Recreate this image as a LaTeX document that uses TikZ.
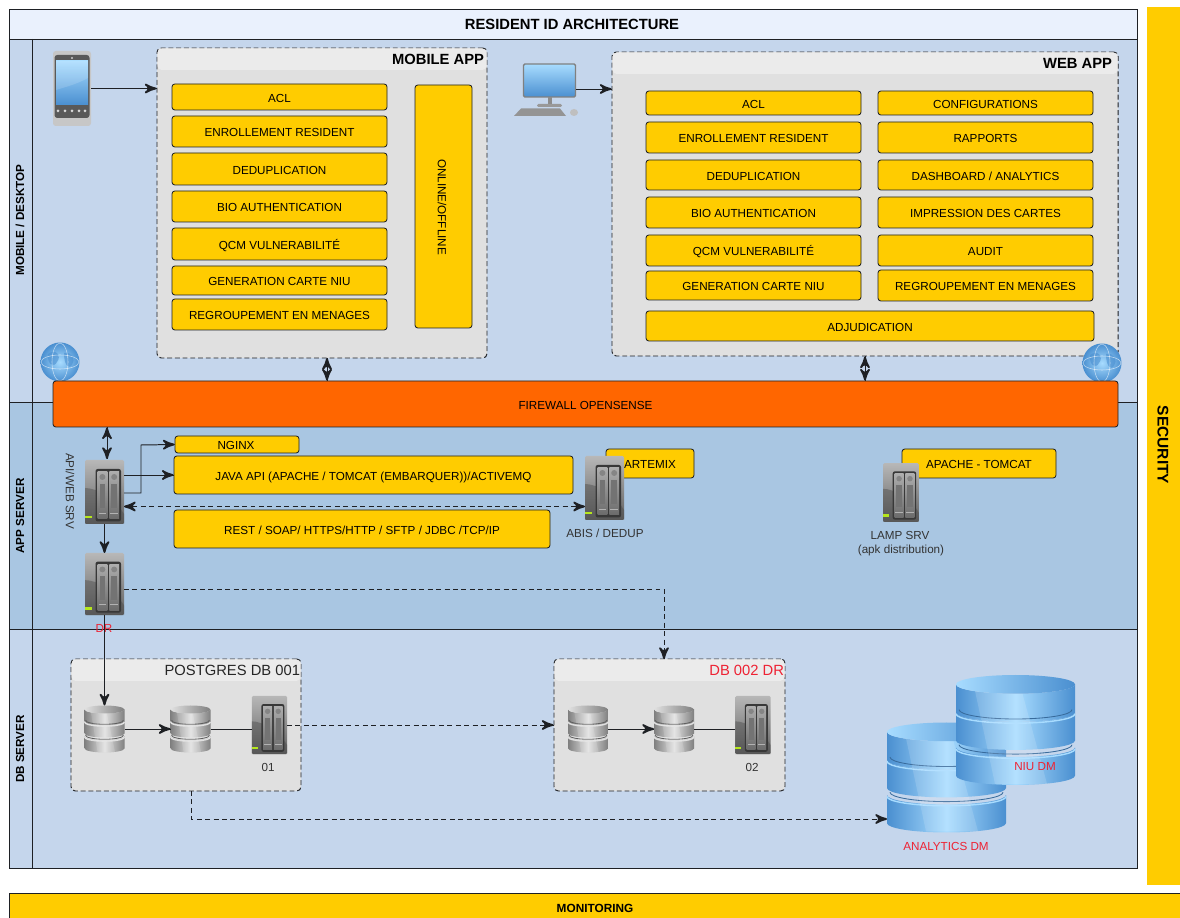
\documentclass[tikz,border=0pt]{standalone}
\usepackage{fontspec}
\setmainfont{Liberation Sans}
\usetikzlibrary{arrows}
\usetikzlibrary{decorations.markings}
\usetikzlibrary{shadings}
\definecolor{lanelight}{HTML}{C5D6EC}
\definecolor{lanemid}{HTML}{A9C6E2}
\definecolor{titleback}{HTML}{EAF1FD}
\definecolor{framegray}{HTML}{E0E0E0}
\definecolor{headgray}{HTML}{EBEBEB}
\definecolor{boxyellow}{HTML}{FFCC00}
\definecolor{wallorange}{HTML}{FF6600}
\definecolor{inkline}{HTML}{1E2024}
\definecolor{alertred}{HTML}{EE2233}
\definecolor{skylight}{HTML}{A8DCFF}
\definecolor{skydark}{HTML}{4A8FD0}
\definecolor{ledgreen}{HTML}{B5E61D}
\tikzset{flow/.style = {decoration={markings,
                                    mark=at position 1 with {\arrow[scale=1.8]{stealth'}}},
                        postaction={decorate}, draw=inkline, line width=0.7pt}}
\tikzset{flowboth/.style = {decoration={markings,
                                        mark=at position 0 with {\arrowreversed[scale=1.8]{stealth'}},
                                        mark=at position 1 with {\arrow[scale=1.8]{stealth'}}},
                            postaction={decorate}, draw=inkline, line width=0.7pt}}
\tikzset{flowdash/.style = {flow, dash pattern=on 3.5pt off 2.5pt}}
\tikzset{flowbothdash/.style = {flowboth, dash pattern=on 3.5pt off 2.5pt}}
\tikzset{lane/.style = {draw=inkline, line width=0.6pt}}
\tikzset{lanelabel/.style = {rotate=90, font=\fontsize{8.3}{9}\selectfont\bfseries}}
\tikzset{ybox/.style = {draw=inkline, fill=boxyellow, rounded corners=2pt, line width=0.6pt,
                        inner sep=0pt, text height=7.5pt, text depth=0pt,
                        font=\fontsize{8.3}{9}\selectfont}}
\tikzset{appframe/.style = {draw=inkline, dash pattern=on 3.5pt off 2pt, rounded corners=3pt,
                            line width=0.7pt}}
\tikzset{smalltext/.style = {font=\fontsize{8.3}{9}\selectfont, text=black!80}}
\tikzset{iconanchor/.style = {inner sep=0pt, outer sep=0pt}}

% server icon: name, centre, x scale, y scale
\newcommand{\srvicon}[4]{%
  \node [iconanchor, rounded corners=1pt, top color=black!28, bottom color=black!62,
         minimum width={39*#3*0.025cm}, minimum height={64*#4*0.025cm}] (#1) at (#2) {};
  \begin{scope}[shift={(#2)}, xscale={#3}, yscale={#4}]
    \fill [black!70, opacity=0.45] (-19.5, -4) .. controls (-8, -4) and (10, 6) .. (19.5, 22)
      -- (19.5, 32) -- (-19.5, 32) -- cycle;
    \fill [black!78, rounded corners=1.5pt] (-9, -23) rectangle (16.5, 29.5);
    \foreach \bx in {-7, 4.8} {
      \shade [top color=black!32, bottom color=black!58] (\bx, -20.5) rectangle (\bx + 9.8, 27);
      \fill [black!48] (\bx + 4.9, -15) circle (3);
      \fill [black!55] (\bx + 2, -8) rectangle (\bx + 7.8, 16);
      \draw [black!30, line width=0.4pt] (\bx + 1, 21) -- (\bx + 8.8, 21);
    }
    \fill [ledgreen] (-19.5, 23.7) rectangle (-12.8, 26.3);
  \end{scope}}

% database icon: name, centre, width, height, dark and light colour
\newcommand{\dbicon}[6]{%
  \colorlet{dbdark}{#5}\colorlet{dblight}{#6}
  \node [iconanchor, minimum width={#3*0.025cm}, minimum height={#4*0.025cm}] (#1) at (#2) {};
  \begin{scope}[shift={(#2)}, xscale={#3/40}, yscale={#4/47}]
    \foreach \dy in {7.5, -7.5, -19.5} {
      \shade [left color=dbdark, right color=dbdark, middle color=dblight]
        (-20, \dy) -- (-20, \dy + 12) arc [start angle=180, end angle=0, x radius=20, y radius=4]
        -- (20, \dy) arc [start angle=0, end angle=180, x radius=20, y radius=4] -- cycle;
    }
    \foreach \dy in {-7.5, 7.5} {
      \draw [dbdark!75!black, line width=0.6pt] (-19, \dy - 1.2) arc [start angle=180, end angle=0, x radius=19, y radius=4];
      \draw [dblight, line width=1pt] (-20, \dy + 0.6) arc [start angle=180, end angle=0, x radius=20, y radius=4];
    }
    \fill [white, opacity=0.14] (-14, -19) -- (1.6, -19) -- (10.6, 23) -- (-6.9, 23) -- cycle;
    \shade [left color=dblight, right color=dbdark] (0, -19.5) ellipse [x radius=20, y radius=4];
  \end{scope}}

% globe icon: name, centre
\newcommand{\globeicon}[2]{%
  \node [iconanchor, circle, minimum size={39*0.025cm}, inner color=skylight,
         outer color=skydark] (#1) at (#2) {};
  \begin{scope}[shift={(#2)}]
    \fill [skydark, opacity=0.6] (-12, -8) .. controls (-4, -14) and (2, -6) .. (-3, 0)
      .. controls (-6, 6) and (-13, 3) .. cycle;
    \fill [skydark, opacity=0.6] (4, -9) .. controls (12, -11) and (16, -2) .. (12, 3)
      .. controls (8, 8) and (4, 2) .. cycle;
    \draw [white, line width=0.4pt, opacity=0.6] (0, 0) ellipse [x radius=8, y radius=19];
    \draw [white, line width=0.4pt, opacity=0.6] (0, 0) ellipse [x radius=19, y radius=7];
  \end{scope}}

\begin{document}
\begin{tikzpicture}[x=0.025cm, y=-0.025cm]
  \useasboundingbox (0, 0) rectangle (1180, 918);

  % lanes
  \fill [white] (0, 0) rectangle (1180, 918);
  \draw [lane, fill=titleback] (9, 9) rectangle (1137, 39);
  \draw [lane, fill=lanelight] (9, 39) rectangle (1137, 402);
  \draw [lane, fill=lanemid] (9, 402) rectangle (1137, 629);
  \draw [lane, fill=lanelight] (9, 629) rectangle (1137, 868);
  \draw [lane] (32, 39) -- (32, 868);
  \node [font=\fontsize{10.5}{12}\selectfont\bfseries] (title) at (572, 24.5) {RESIDENT ID ARCHITECTURE};
  \node [lanelabel] (lanemobile) at (20, 220) {MOBILE / DESKTOP};
  \node [lanelabel] (laneapp) at (20, 516) {APP SERVER};
  \node [lanelabel] (lanedb) at (20, 749) {DB SERVER};

  % security and monitoring
  \fill [boxyellow] (1147, 7) rectangle (1180, 885);
  \node [rotate=-90, font=\fontsize{11}{12}\selectfont\bfseries] (security) at (1163, 445) {SECURITY};
  \draw [lane, fill=boxyellow] (9, 893) rectangle (1182, 920);
  \node [font=\fontsize{8.4}{9}\selectfont\bfseries] (monitoring) at (595, 908) {MONITORING};

  % mobile app
  \node [appframe, fill=framegray, minimum width=330*0.025cm, minimum height=310*0.025cm,
         inner sep=0pt] (mobileapp) at (322, 203) {};
  \fill [headgray, rounded corners=3pt] (157.5, 48.5) rectangle (486.5, 70);
  \node [anchor=east, font=\fontsize{10.5}{12}\selectfont\bfseries] (mobiletitle) at (489, 59) {MOBILE APP};
  \foreach \nm/\yy/\hh/\lbl in {mobacl/97/26/ACL, mobenrol/131.5/31/ENROLLEMENT RESIDENT,
      mobdedup/169/32/DEDUPLICATION, mobbio/206.5/31/BIO AUTHENTICATION,
      mobqcm/244/32/QCM VULNERABILITÉ, mobgen/280.5/29/GENERATION CARTE NIU,
      mobgroup/314.5/31/REGROUPEMENT EN MENAGES}
    \node [ybox, minimum width=215*0.025cm, minimum height={\hh*0.025cm}] (\nm) at (279.5, \yy) {\lbl};
  \node [ybox, minimum width=57*0.025cm, minimum height=243*0.025cm] (mobonline) at (443.5, 206.5) {};
  \node [rotate=-90, font=\fontsize{8.3}{9}\selectfont] (mobonlinetext) at (442, 207) {ONLINE/OFFLINE};

  % web app
  \node [appframe, fill=framegray, minimum width=506*0.025cm, minimum height=304*0.025cm,
         inner sep=0pt] (webapp) at (865, 204) {};
  \fill [headgray, rounded corners=3pt] (612.5, 52.5) rectangle (1117.5, 74);
  \node [anchor=east, font=\fontsize{10.5}{12}\selectfont\bfseries] (webtitle) at (1117, 63) {WEB APP};
  \foreach \nm/\yy/\hh/\lbl in {webacl/103/24/ACL, webenrol/137.5/31/ENROLLEMENT RESIDENT,
      webdedup/175/30/DEDUPLICATION, webbio/212.5/31/BIO AUTHENTICATION,
      webqcm/250.5/31/QCM VULNERABILITÉ, webgen/285.5/29/GENERATION CARTE NIU}
    \node [ybox, minimum width=215*0.025cm, minimum height={\hh*0.025cm}] (\nm) at (753.5, \yy) {\lbl};
  \foreach \nm/\yy/\hh/\lbl in {webconf/103/24/CONFIGURATIONS, webrap/137.5/31/RAPPORTS,
      webdash/175/30/{DASHBOARD / ANALYTICS}, webprint/212.5/31/IMPRESSION DES CARTES,
      webaudit/250.5/31/AUDIT, webgroup/285.5/31/REGROUPEMENT EN MENAGES}
    \node [ybox, minimum width=215*0.025cm, minimum height={\hh*0.025cm}] (\nm) at (985.5, \yy) {\lbl};
  \node [ybox, minimum width=448*0.025cm, minimum height=30*0.025cm] (webadjud) at (870, 326) {ADJUDICATION};

  % phone
  \node [iconanchor, fill=black!22, rounded corners=2pt, minimum width=38*0.025cm,
         minimum height=75*0.025cm] (phone) at (72, 88.5) {};
  \fill [black!65, rounded corners=2pt] (54.5, 55) rectangle (89.5, 118);
  \shade [top color=skylight, bottom color=skydark] (56, 61) rectangle (88, 105);
  \fill [white, opacity=0.15] (56, 61) -- (88, 61) -- (88, 78) .. controls (75, 85) and (65, 87) .. (56, 90) -- cycle;
  \fill [black!20] (72, 58) circle (1.2);
  \foreach \dx in {-14, -7, 0, 7, 13}
    \fill [black!15] (72 + \dx, 111) circle (1.5);

  % desktop
  \node [iconanchor, rounded corners=1pt, draw=black!50, line width=1pt, top color=skylight,
         bottom color=skydark, minimum width=52*0.025cm, minimum height=33*0.025cm] (desktop) at (549.5, 80.5) {};
  \fill [black!45] (547.5, 97) rectangle (551.5, 104);
  \fill [black!40, rounded corners=1pt] (537, 104) rectangle (562, 107);
  \fill [black!42] (521, 108.5) -- (560, 108.5) -- (566, 116) -- (514, 116) -- cycle;
  \fill [black!25] (574, 112.5) ellipse [x radius=4, y radius=3.5];
  \coordinate (desktopout) at (576, 89);

  % firewall
  \globeicon{globeleft}{60, 362}
  \globeicon{globeright}{1102, 363}
  \node [ybox, fill=wallorange, minimum width=1065*0.025cm, minimum height=46*0.025cm] (firewall)
    at (585.5, 404) {FIREWALL OPENSENSE};

  % app server
  \node [ybox, minimum width=124*0.025cm, minimum height=17*0.025cm] (nginx) at (237, 444.5) {};
  \node [font=\fontsize{8.3}{9}\selectfont] (nginxtext) at (236, 445.5) {NGINX};
  \node [ybox, minimum width=399*0.025cm, minimum height=38*0.025cm] (javaapi) at (373.5, 475)
    {JAVA API (APACHE / TOMCAT (EMBARQUER))/ACTIVEMQ};
  \node [ybox, minimum width=376*0.025cm, minimum height=38*0.025cm] (rest) at (362, 529)
    {REST / SOAP/ HTTPS/HTTP / SFTP / JDBC /TCP/IP};
  \node [ybox, minimum width=88*0.025cm, minimum height=29*0.025cm] (artemis) at (650, 463.5) {ARTEMIX};
  \node [ybox, minimum width=154*0.025cm, minimum height=29*0.025cm] (apache) at (979, 463.5) {APACHE - TOMCAT};
  \srvicon{srvapi}{104.5, 492}{1}{1}
  \srvicon{srvdr}{104.5, 584}{1}{0.97}
  \srvicon{srvabis}{604.5, 488}{1}{1}
  \srvicon{srvlamp}{901, 492.5}{0.92}{0.92}
  \node [smalltext, rotate=-90] (srvapitext) at (70, 491) {API/WEB SRV};
  \node [smalltext] (srvabistext) at (605, 533) {ABIS / DEDUP};
  \node [smalltext] (srvlamptext) at (900, 535) {LAMP SRV};
  \node [smalltext] (srvlampnote) at (901, 550) {(apk distribution)};
  \node [smalltext, text=alertred] (srvdrtext) at (104, 628) {DR};

  % databases
  \node [appframe, fill=framegray, minimum width=230*0.025cm, minimum height=132*0.025cm,
         inner sep=0pt] (pgframe) at (186, 725) {};
  \fill [headgray, rounded corners=3pt] (71.5, 659.5) rectangle (300.5, 681);
  \node [anchor=east, font=\fontsize{10.5}{12}\selectfont, text=black!85] (pgtitle) at (305, 670) {POSTGRES DB 001};
  \dbicon{dbone}{104.5, 729}{40}{47}{black!50}{black!12}
  \dbicon{dbtwo}{190.5, 729}{40}{47}{black!50}{black!12}
  \srvicon{srvone}{269.5, 725}{0.9}{0.91}
  \node [smalltext] (srvonetext) at (268, 767) {01};
  \node [appframe, fill=framegray, minimum width=231*0.025cm, minimum height=132*0.025cm,
         inner sep=0pt] (drframe) at (669.5, 725) {};
  \fill [headgray, rounded corners=3pt] (554.5, 659.5) rectangle (784.5, 681);
  \node [anchor=east, font=\fontsize{10.5}{12}\selectfont, text=alertred] (drtitle) at (789, 670) {DB 002 DR};
  \dbicon{dbthree}{588, 729}{40}{47}{black!50}{black!12}
  \dbicon{dbfour}{674, 729}{40}{47}{black!50}{black!12}
  \srvicon{srvtwo}{753, 725}{0.9}{0.91}
  \node [smalltext] (srvtwotext) at (752, 767) {02};
  \dbicon{dmanalytics}{946.5, 777.5}{119}{110}{skydark}{skylight}
  \dbicon{dmniu}{1015.5, 730}{119}{110}{skydark}{skylight}
  \node [smalltext, text=alertred] (dmanalyticstext) at (946, 846) {ANALYTICS DM};
  \node [smalltext, text=alertred] (dmniutext) at (1035, 767) {NIU DM};

  % connectors
  \coordinate (mobilelink) at (327, 358);
  \coordinate (apiup) at (107, 459);
  \coordinate (apibend) at (141, 493);
  \coordinate (nginxbend) at (141, 445);
  \coordinate (apidash) at (124, 506.5);
  \coordinate (drout) at (124, 589);
  \coordinate (drin) at (664, 659);
  \coordinate (pgout) at (191, 791);
  \coordinate (analyticsin) at (887, 819);
  \draw [flow] (phone.east) -- (phone.east -| mobileapp.west);
  \draw [flow] (desktopout) -- (desktopout -| webapp.west);
  \draw [flowboth] (mobilelink) -- (mobilelink |- firewall.north);
  \draw [flowboth] (webapp.south) -- (webapp.south |- firewall.north);
  \draw [flowboth] (apiup) -- (apiup |- firewall.south);
  \draw [flow] (srvapi.east |- apibend) -- (apibend) -- (nginxbend) -- (nginx.west);
  \draw [flow] (srvapi.east |- javaapi.west) -- (javaapi.west);
  \draw [flowbothdash] (apidash) -- (apidash -| srvabis.west);
  \draw [flow] (srvapi.south) -- (srvdr.north);
  \draw [flow] (srvdr.south) -- (dbone.north);
  \draw [flowdash] (drout) -| (drin);
  \draw [flow] (dbone.east) -- (dbtwo.west);
  \draw [lane] (dbtwo.east) -- (dbtwo.east -| srvone.west);
  \draw [flow] (dbthree.east) -- (dbfour.west);
  \draw [lane] (dbfour.east) -- (dbfour.east -| srvtwo.west);
  \draw [flowdash] (srvone.east) -- (srvone.east -| drframe.west);
  \draw [flowdash] (pgout) |- (analyticsin);
\end{tikzpicture}
\end{document}
